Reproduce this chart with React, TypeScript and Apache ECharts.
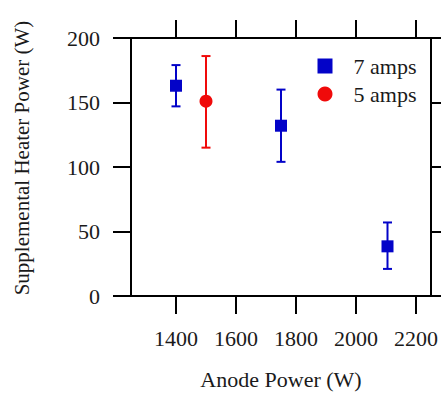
import React, { useEffect, useRef } from "react";
import * as echarts from "echarts";

const xTicks = [1400, 1600, 1800, 2000, 2200];
const yTicks = [0, 50, 100, 150, 200];

const amps7X = [1400, 1750, 2105];
const amps7Y = [163, 132, 38.5];
const amps7Low = [147, 104, 21];
const amps7High = [179, 160, 57];

const amps5X = [1500];
const amps5Y = [151];
const amps5Low = [115];
const amps5High = [186];

const BLUE = "#0303c8";
const RED = "#f00a0a";
const FONT = "Liberation Serif";
const TXT = "#1a1a1a";

function errorSeries(xs: number[], lows: number[], highs: number[], color: string) {
  const data = xs.map((x, i) => [x, lows[i], highs[i]]);
  return {
    type: "custom",
    silent: true,
    z: 1,
    data,
    encode: { x: 0, y: [1, 2] },
    renderItem: (params: any, api: any) => {
      const x = api.value(0);
      const lo = api.coord([x, api.value(1)]);
      const hi = api.coord([x, api.value(2)]);
      const hw = 4.5;
      const style = { stroke: color, lineWidth: 2 };
      return {
        type: "group",
        children: [
          { type: "line", shape: { x1: lo[0], y1: lo[1], x2: hi[0], y2: hi[1] }, style },
          { type: "line", shape: { x1: lo[0] - hw, y1: lo[1], x2: lo[0] + hw, y2: lo[1] }, style },
          { type: "line", shape: { x1: hi[0] - hw, y1: hi[1], x2: hi[0] + hw, y2: hi[1] }, style },
        ],
      };
    },
  };
}

export default function App() {
  const ref = useRef<HTMLDivElement>(null);
  useEffect(() => {
    if (!ref.current) return;
    const chart = echarts.init(ref.current, null, { renderer: "svg" });
    const axisLine = { show: true, onZero: false, lineStyle: { color: "#000", width: 2 } };
    const tick = (vals: number[]) => ({
      show: true,
      inside: false,
      length: 18,
      customValues: vals,
      lineStyle: { color: "#000", width: 2 },
    });
    const fmt = (v: number) => String(v);
    chart.setOption({
      animation: false,
      backgroundColor: "#fff",
      textStyle: { fontFamily: FONT },
      grid: { left: 131, right: 9, top: 38, bottom: 96, containLabel: false },
      xAxis: [
        {
          type: "value",
          min: 1250,
          max: 2250,
          position: "bottom",
          axisLine,
          axisTick: tick(xTicks),
          splitLine: { show: false },
          axisLabel: {
            customValues: xTicks,
            formatter: fmt,
            margin: 31,
            fontSize: 22,
            color: TXT,
            fontFamily: FONT,
          },
          name: "Anode Power (W)",
          nameLocation: "middle",
          nameGap: 72,
          nameTextStyle: { fontSize: 22, color: TXT, fontFamily: FONT },
        },
        {
          type: "value",
          min: 1250,
          max: 2250,
          position: "top",
          axisLine,
          axisTick: tick(xTicks),
          splitLine: { show: false },
          axisLabel: { show: false },
        },
      ],
      yAxis: [
        {
          type: "value",
          min: 0,
          max: 200,
          position: "left",
          axisLine,
          axisTick: tick(yTicks),
          splitLine: { show: false },
          axisLabel: {
            customValues: yTicks,
            formatter: fmt,
            margin: 31,
            fontSize: 22,
            color: TXT,
            fontFamily: FONT,
          },
        },
        {
          type: "value",
          min: 0,
          max: 200,
          position: "right",
          axisLine,
          axisTick: tick(yTicks),
          splitLine: { show: false },
          axisLabel: { show: false },
        },
      ],
      legend: {
        orient: "vertical",
        left: 312.5,
        top: 50,
        itemWidth: 15,
        itemHeight: 15,
        itemGap: 6,
        textStyle: { fontSize: 22, color: TXT, fontFamily: FONT, padding: [0, 0, 0, 16] },
        data: [
          { name: "7 amps", icon: "rect", itemStyle: { color: BLUE } },
          { name: "5 amps", icon: "circle", itemStyle: { color: RED } },
        ],
      },
      graphic: [
        {
          type: "text",
          x: 22,
          y: 158,
          rotation: Math.PI / 2,
          style: {
            text: "Supplemental Heater Power (W)",
            fontSize: 21,
            fontFamily: FONT,
            fill: TXT,
            align: "center",
            verticalAlign: "middle",
          },
        },
      ],
      series: [
        errorSeries(amps7X, amps7Low, amps7High, BLUE),
        errorSeries(amps5X, amps5Low, amps5High, RED),
        {
          name: "7 amps",
          type: "scatter",
          symbol: "rect",
          symbolSize: 12,
          z: 3,
          itemStyle: { color: BLUE, opacity: 1 },
          data: amps7X.map((x, i) => [x, amps7Y[i]]),
        },
        {
          name: "5 amps",
          type: "scatter",
          symbol: "circle",
          symbolSize: 13,
          z: 3,
          itemStyle: { color: RED, opacity: 1 },
          data: amps5X.map((x, i) => [x, amps5Y[i]]),
        },
      ],
    });
    return () => chart.dispose();
  }, []);
  return <div ref={ref} style={{ width: 441, height: 395, position: "absolute", left: 0, top: 0 }} />;
}
